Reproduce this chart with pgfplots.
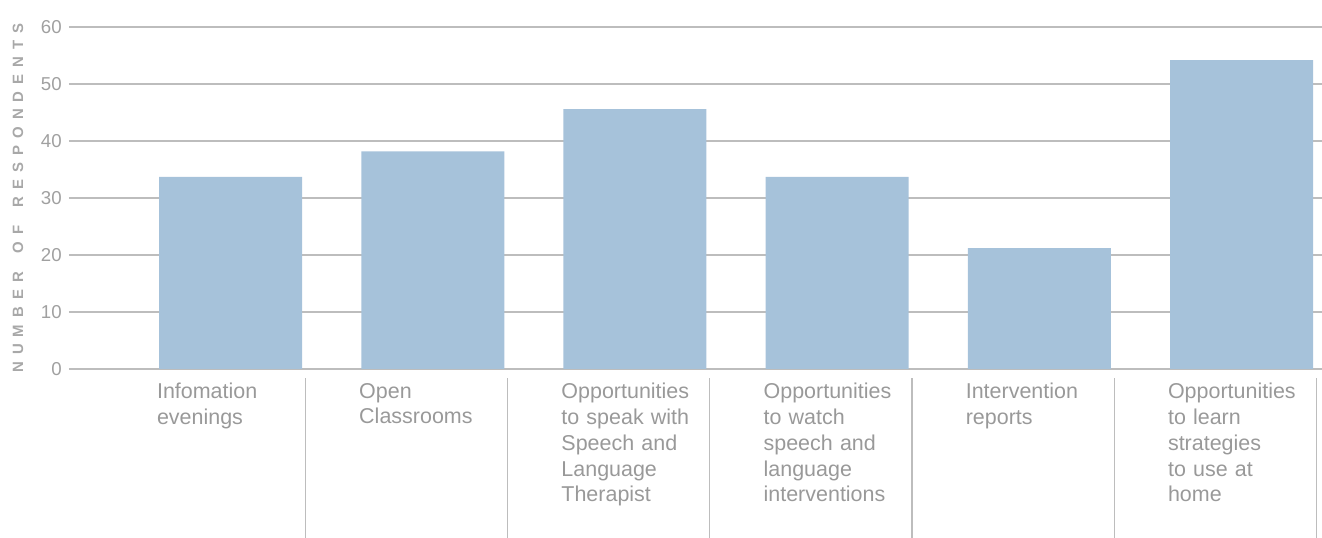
\documentclass[border=0pt]{standalone}
\usepackage{fontspec}
\setmainfont{Liberation Sans}
\usepackage{pgfplots}
\pgfplotsset{compat=1.18}
\definecolor{barblue}{HTML}{A6C2DA}
\definecolor{gridgray}{HTML}{BDBDBD}
\definecolor{labgray}{HTML}{999999}
\definecolor{tickgray}{HTML}{A0A0A0}
\definecolor{ylabgray}{HTML}{A8A8A8}
\newcommand\tr{\kern5.3pt}
\begin{document}
\begin{tikzpicture}
\useasboundingbox (-51.75pt,-126.75pt) rectangle (939.75pt,276.75pt);
\begin{axis}[
  at={(0,0)}, anchor=south west,
  scale only axis,
  width=939.75pt, height=256.5pt,
  xmin=-0.799, xmax=5.398,
  ymin=0, ymax=60,
  ytick={0,10,...,60},
  xtick={0,1,2,3,4,5},
  xticklabels={
    {Infomation\\evenings},
    {Open\\Classrooms},
    {Opportunities\\to speak with\\Speech and\\Language\\Therapist},
    {Opportunities\\to watch\\speech and\\language\\interventions},
    {Intervention\\reports},
    {Opportunities\\to learn\\strategies\\to use at\\home}},
  xticklabel style={anchor=north, inner sep=0pt, text width=110.25pt, align=left,
    yshift=-10.5pt, font=\fontsize{16.1pt}{19.3pt}\selectfont, text=labgray},
  yticklabel style={anchor=east, inner sep=0pt, xshift=-5.25pt,
    font=\fontsize{14pt}{16pt}\selectfont, text=tickgray},
  /pgf/number format/assume math mode=true,
  ymajorgrids,
  major grid style={draw=gridgray, line width=1pt},
  axis line style={draw=none},
  major tick length=0pt,
  tick style={draw=none},
  every axis y label/.style={at={(axis description cs:0,0.5)}, rotate=90, anchor=center, yshift=38.25pt},
  ylabel={\fontsize{11.2pt}{13pt}\selectfont\bfseries\color{ylabgray}N\tr U\tr M\tr B\tr E\tr R\tr\ \tr O\tr F\tr\ \tr R\tr E\tr S\tr P\tr O\tr N\tr D\tr E\tr N\tr T\tr S},
  clip=false,
]
\addplot[ybar, bar width=107.25pt, bar shift=0pt, fill=barblue, draw=none]
  coordinates {(0,33.7) (1,38.2) (2,45.6) (3,33.7) (4,21.2) (5,54.2)};
\pgfplotsinvokeforeach{0,...,5}{
  \draw[draw=gridgray, line width=0.9pt] (axis cs:#1+0.37,-1.6) -- (axis cs:#1+0.37,-29.7);
}
\end{axis}
\end{tikzpicture}
\end{document}
